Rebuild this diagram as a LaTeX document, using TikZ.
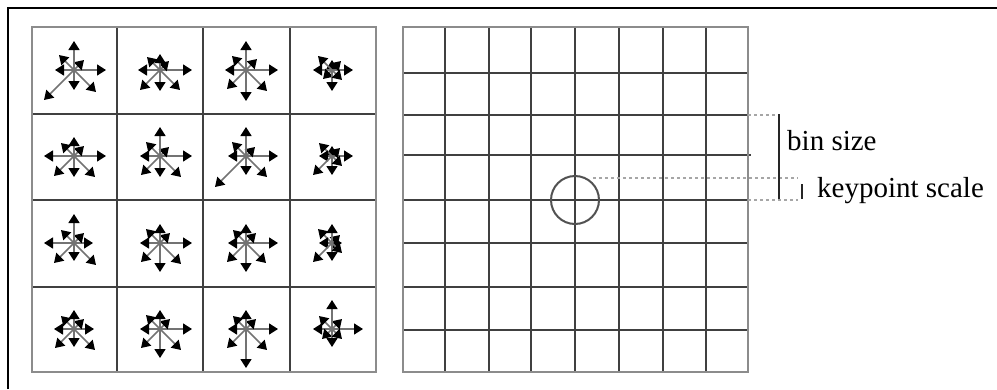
\documentclass[tikz,border=0pt]{standalone}
\usepackage{fontspec}
\setmainfont{Liberation Serif}
\usetikzlibrary{arrows.meta}
\tikzset{
  hogarrow/.style={draw=black!55, line width=1.6pt, -{Triangle[length=9pt,width=11pt,color=black,fill=black]}},
  innergrid/.style={draw=black!75, line width=2.4pt},
  outergrid/.style={draw=black!45, line width=2.8pt},
  frameline/.style={draw=black, line width=2.8pt},
  dotline/.style={draw=black!35, line width=1.8pt, dash pattern=on 2.5pt off 3.5pt},
  bracket/.style={draw=black!85, line width=2.2pt},
  lbl/.style={font=\fontsize{29}{34}\selectfont, inner sep=0pt, anchor=base west}
}
\newcommand{\hogcell}[9]{%
  \draw[hogarrow] #1 -- ++(#2,0);
  \draw[hogarrow] #1 -- ++(#3,-#3);
  \draw[hogarrow] #1 -- ++(0,-#4);
  \draw[hogarrow] #1 -- ++(-#5,-#5);
  \draw[hogarrow] #1 -- ++(-#6,0);
  \draw[hogarrow] #1 -- ++(-#7,#7);
  \draw[hogarrow] #1 -- ++(0,#8);
  \draw[hogarrow] #1 -- ++(#9,#9);
}
\begin{document}
\begin{tikzpicture}[x=1pt,y=-1pt]
\useasboundingbox[fill=white] (0,0) rectangle (997,389);
% outer frame (top and left visible)
\draw[frameline] (8,389) -- (8,8) -- (997,8);
% left grid
\foreach \x in {117,203,290} \draw[innergrid] (\x,27) -- (\x,372);
\foreach \y in {114,200,287} \draw[innergrid] (32,\y) -- (376,\y);
\draw[outergrid] (32,27) rectangle (376,372);
% right grid
\foreach \x in {445,489,531,575,619,663,706} \draw[innergrid] (\x,27) -- (\x,372);
\foreach \y in {73,115,200,243,287,330} \draw[innergrid] (403,\y) -- (748,\y);
\draw[innergrid] (403,155) -- (751,155);
\draw[outergrid] (403,27) rectangle (748,372);
% keypoint circle
\draw[draw=black!68, line width=2pt] (575,200) circle[radius=24];
% dotted guides
\coordinate (g1) at (748,115); \coordinate (g1e) at (780,115);
\coordinate (g2) at (593,178); \coordinate (g2e) at (798,178);
\coordinate (g3) at (748,200); \coordinate (g3e) at (798,200);
\draw[dotline] (g1) -- (g1e);
\draw[dotline] (g2) -- (g2e);
\draw[dotline] (g3) -- (g3e);
% brackets
\coordinate (b1) at (779,114); \coordinate (b2) at (779,199);
\coordinate (k1) at (802,184); \coordinate (k2) at (802,199);
\draw[bracket] (b1) -- (b2);
\draw[bracket] (k1) -- (k2);
\node[lbl] (binsize) at (787,150) {bin size};
\node[lbl] (kpscale) at (817,197) {keypoint scale};
% descriptor arrows
% row 0
\hogcell{(74,70)}{32}{10}{29}{15}{19}{30}{20}{22}
\hogcell{(160,70)}{32}{9}{16}{13}{22}{20}{21}{20}
\hogcell{(246,70)}{32}{11}{29}{14}{21}{19}{31}{21}
\hogcell{(332,70)}{21}{9}{10}{14}{19}{9}{21}{10}
% row 1
\hogcell{(74,156)}{32}{10}{19}{13}{30}{20}{21}{21}
\hogcell{(160,156)}{32}{9}{29}{14}{20}{19}{21}{21}
\hogcell{(246,156)}{32}{9}{29}{14}{18}{31}{19}{21}
\hogcell{(332,156)}{21}{8}{10}{13}{13}{19}{19}{10}
% row 2
\hogcell{(74,243)}{19}{10}{29}{13}{30}{20}{18}{22}
\hogcell{(160,243)}{32}{10}{19}{14}{20}{19}{29}{21}
\hogcell{(246,243)}{32}{10}{19}{13}{18}{19}{29}{20}
\hogcell{(332,243)}{10}{8}{19}{14}{13}{19}{18}{10}
% row 3
\hogcell{(74,329)}{20}{10}{19}{13}{20}{19}{18}{21}
\hogcell{(160,329)}{32}{10}{19}{14}{20}{19}{29}{21}
\hogcell{(246,329)}{32}{10}{19}{13}{18}{19}{39}{21}
\hogcell{(332,329)}{31}{10}{29}{13}{19}{10}{18}{10}
\end{tikzpicture}
\end{document}
